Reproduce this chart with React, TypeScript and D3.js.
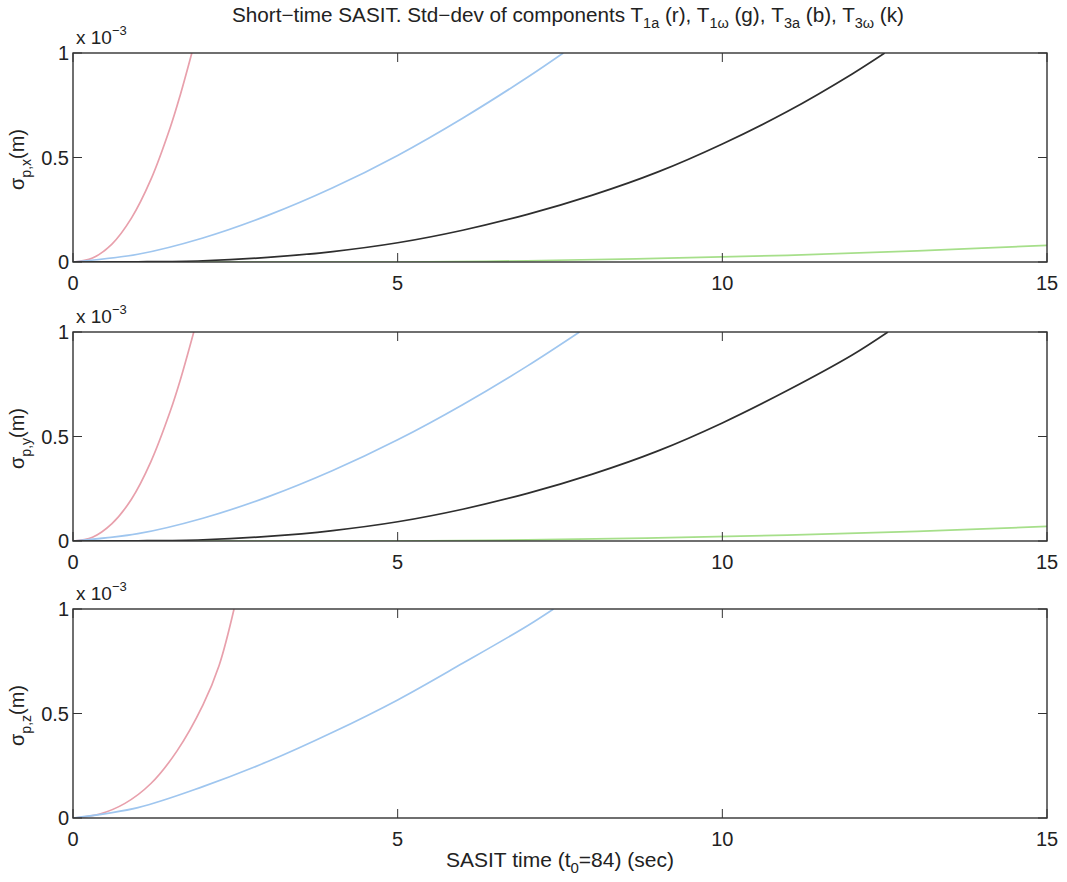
import React from "react";
import * as d3 from "d3";

const xTicks = [0, 5, 10, 15];
const yTicks = [0, 0.5, 1];

// [time (s), sigma (x 1e-3 m)]
const redX: [number, number][] = [[0, 0], [0.3, 0.019], [0.6, 0.086], [0.9, 0.21], [1.2, 0.395], [1.5, 0.646], [1.65, 0.797], [1.83, 1.0]];
const greenX: [number, number][] = [[0, 0], [5, 0], [7, 0.006], [9, 0.017], [11, 0.032], [13, 0.053], [15, 0.08]];
const blueX: [number, number][] = [[0, 0], [1, 0.037], [2, 0.115], [3, 0.223], [4, 0.355], [5, 0.51], [6, 0.688], [7, 0.884], [7.55, 1.0]];
const blackX: [number, number][] = [[0, 0], [1, 0.001], [2, 0.006], [3, 0.022], [4, 0.05], [5, 0.092], [6, 0.152], [7, 0.228], [8, 0.32], [9, 0.43], [10, 0.565], [11, 0.72], [12, 0.9], [12.5, 1.0]];

const redY: [number, number][] = [[0, 0], [0.3, 0.018], [0.6, 0.083], [0.9, 0.2], [1.2, 0.38], [1.5, 0.623], [1.65, 0.768], [1.86, 1.0]];
const greenY: [number, number][] = [[0, 0], [5, 0], [7, 0.005], [9, 0.015], [11, 0.028], [13, 0.046], [15, 0.07]];
const blueY: [number, number][] = [[0, 0], [1, 0.035], [2, 0.109], [3, 0.211], [4, 0.337], [5, 0.484], [6, 0.652], [7, 0.838], [7.8, 1.0]];
const blackY: [number, number][] = [[0, 0], [1, 0.001], [2, 0.006], [3, 0.022], [4, 0.05], [5, 0.092], [6, 0.152], [7, 0.228], [8, 0.32], [9, 0.43], [10, 0.565], [11, 0.72], [12, 0.89], [12.55, 1.0]];

const redZ: [number, number][] = [[0, 0], [0.4, 0.018], [0.8, 0.07], [1.2, 0.165], [1.6, 0.32], [2.0, 0.54], [2.25, 0.73], [2.48, 1.0]];
const blueZ: [number, number][] = [[0, 0], [1, 0.05], [2, 0.15], [3, 0.27], [4, 0.41], [5, 0.565], [6, 0.74], [7, 0.92], [7.4, 1.0]];

const COLORS = { r: "#e8a0ac", g: "#a6df8a", b: "#9fc6ef", k: "#2e2e2e" };

const panels = [
  { top: 53, sub: "p,x", series: [[redX, COLORS.r], [greenX, COLORS.g], [blueX, COLORS.b], [blackX, COLORS.k]] },
  { top: 332, sub: "p,y", series: [[redY, COLORS.r], [greenY, COLORS.g], [blueY, COLORS.b], [blackY, COLORS.k]] },
  { top: 609, sub: "p,z", series: [[redZ, COLORS.r], [blueZ, COLORS.b]] },
];

const LEFT = 73;
const RIGHT = 1047;
const H = 209;
const FONT = "'Liberation Sans', Arial, Helvetica, sans-serif";

export default function App() {
  const x = d3.scaleLinear().domain([0, 15]).range([LEFT, RIGHT]);
  return (
    <svg width={1067} height={882} style={{ position: "absolute", left: 0, top: 0, background: "#fff" }} fontFamily={FONT}>
      <rect x={0} y={0} width={1067} height={882} fill="#fff" />
      <text x={568} y={22} textAnchor="middle" fontSize={20} fill="#222" textLength={672} lengthAdjust="spacingAndGlyphs">
        Short−time SASIT. Std−dev of components T<tspan fontSize={14} dy={6}>1a</tspan>
        <tspan dy={-6}> (r), T</tspan><tspan fontSize={14} dy={6}>1ω</tspan>
        <tspan dy={-6}> (g), T</tspan><tspan fontSize={14} dy={6}>3a</tspan>
        <tspan dy={-6}> (b), T</tspan><tspan fontSize={14} dy={6}>3ω</tspan>
        <tspan dy={-6}> (k)</tspan>
      </text>
      {panels.map((p, i) => {
        const y = d3.scaleLinear().domain([0, 1]).range([p.top + H, p.top]);
        const line = d3.line<[number, number]>().x((d) => x(d[0])).y((d) => y(d[1])).curve(d3.curveCatmullRom.alpha(0.5));
        const clipId = `clip${i}`;
        return (
          <g key={i}>
            <defs>
              <clipPath id={clipId}>
                <rect x={LEFT} y={p.top} width={RIGHT - LEFT} height={H} />
              </clipPath>
            </defs>
            <g clipPath={`url(#${clipId})`}>
              {p.series.map(([data, color], j) => (
                <path key={j} d={line(data as [number, number][]) || ""} fill="none" stroke={color as string} strokeWidth={1.7} />
              ))}
            </g>
            <rect x={LEFT} y={p.top} width={RIGHT - LEFT} height={H} fill="none" stroke="#333" strokeWidth={1.4} />
            {xTicks.map((t) => (
              <g key={"x" + t}>
                <line x1={x(t)} x2={x(t)} y1={p.top + H} y2={p.top + H - 9} stroke="#333" />
                <line x1={x(t)} x2={x(t)} y1={p.top} y2={p.top + 9} stroke="#333" />
                <text x={x(t)} y={p.top + H + 28} textAnchor="middle" fontSize={20} fill="#222">{t}</text>
              </g>
            ))}
            {yTicks.map((t) => (
              <g key={"y" + t}>
                <line x1={LEFT} x2={LEFT + 9} y1={y(t)} y2={y(t)} stroke="#333" />
                <line x1={RIGHT} x2={RIGHT - 9} y1={y(t)} y2={y(t)} stroke="#333" />
                <text x={LEFT - 4} y={y(t) + 7} textAnchor="end" fontSize={20} fill="#222">{t}</text>
              </g>
            ))}
            <text x={LEFT + 3} y={p.top - 9} fontSize={19} fill="#222">
              x 10<tspan fontSize={13} dy={-9}>−3</tspan>
            </text>
            <text transform={`translate(24, ${y(0.5) + 2}) rotate(-90)`} textAnchor="middle" fontSize={20} fill="#222">
              σ<tspan fontSize={14} dy={7}>{p.sub}</tspan><tspan dy={-7}>(m)</tspan>
            </text>
          </g>
        );
      })}
      <text x={560} y={867} textAnchor="middle" fontSize={21} fill="#222">
        SASIT time (t<tspan fontSize={15} dy={6}>0</tspan><tspan dy={-6}>=84) (sec)</tspan>
      </text>
    </svg>
  );
}
